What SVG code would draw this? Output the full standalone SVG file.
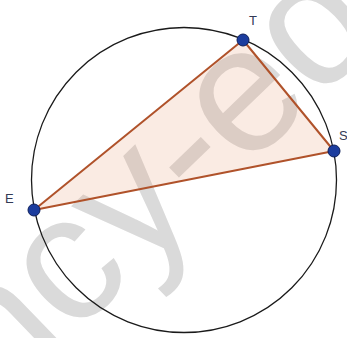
<svg xmlns="http://www.w3.org/2000/svg" width="347" height="338" viewBox="0 0 347 338">
<style>
.wm{font-family:"Liberation Sans",Arial,sans-serif;font-size:180px;fill:#dadada}
.lbl{font-family:"Liberation Sans",Arial,sans-serif;font-size:13px;fill:#333a55}
.pt{fill:#1c3d9e;stroke:#0d1f5a;stroke-width:1}
.side{stroke:#b0522a;stroke-width:2;fill:none;stroke-linecap:round}
</style>
<rect width="347" height="338" fill="#ffffff"/>
<text class="wm" transform="translate(0,407) rotate(-44)">ncy-ed</text>
<g id="circle"><circle cx="184" cy="180" r="152.5" fill="none" stroke="#1a1a1a" stroke-width="1.3"/></g>
<g id="triangle"><polygon points="34,210 243,40 334,151" fill="#e89a72" fill-opacity="0.2" stroke="none"/></g>
<g id="connectors">
<line class="side" x1="34" y1="210" x2="243" y2="40"/>
<line class="side" x1="243" y1="40" x2="334" y2="151"/>
<line class="side" x1="334" y1="151" x2="34" y2="210"/>
</g>
<g id="node-T"><circle class="pt" cx="243" cy="40" r="6"/><text class="lbl" x="249" y="25">T</text></g>
<g id="node-S"><circle class="pt" cx="334" cy="151" r="6"/><text class="lbl" x="339" y="140">S</text></g>
<g id="node-E"><circle class="pt" cx="34" cy="210" r="6"/><text class="lbl" x="5" y="203">E</text></g>
</svg>
